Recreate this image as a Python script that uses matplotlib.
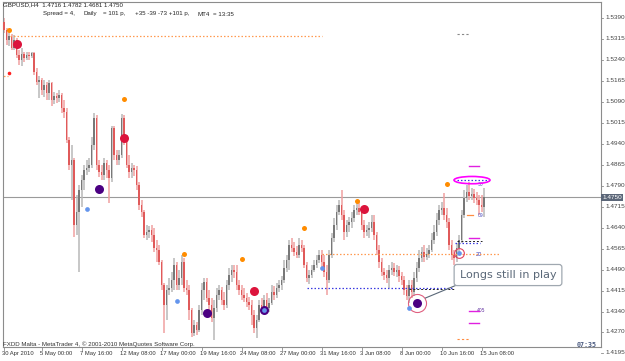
import matplotlib
matplotlib.use("Agg")
import matplotlib.pyplot as plt
import numpy as np
import pandas as pd
from matplotlib.patches import Ellipse

# ---------------- data ----------------
opens = [1.5376, 1.5347, 1.5311, 1.5326, 1.5283, 1.5311, 1.5258, 1.5240, 1.5261, 1.5247,
         1.5258, 1.5254, 1.5265, 1.5197, 1.5161, 1.5168, 1.5133, 1.5151, 1.5122, 1.5158,
         1.5097, 1.5111, 1.5104, 1.5115, 1.5068, 1.5054, 1.4954, 1.4865, 1.4883, 1.4651,
         1.4697, 1.4776, 1.4811, 1.4847, 1.4854, 1.4865, 1.4936, 1.5033, 1.4865, 1.4840,
         1.4829, 1.4872, 1.4847, 1.4819, 1.4997, 1.4901, 1.4883, 1.4901, 1.5033, 1.4954,
         1.4865, 1.4840, 1.4854, 1.4847, 1.4794, 1.4722, 1.4697, 1.4615, 1.4626, 1.4633,
         1.4615, 1.4569, 1.4562, 1.4519, 1.4437, 1.4365, 1.4419, 1.4426, 1.4454, 1.4508,
         1.4437, 1.4462, 1.4519, 1.4426, 1.4419, 1.4347, 1.4265, 1.4294, 1.4276, 1.4347,
         1.4419, 1.4447, 1.4390, 1.4365, 1.4319, 1.4354, 1.4401, 1.4419, 1.4383, 1.4365,
         1.4437, 1.4472, 1.4490, 1.4483, 1.4437, 1.4419, 1.4401, 1.4390, 1.4376, 1.4365,
         1.4329, 1.4283, 1.4312, 1.4365, 1.4354, 1.4383, 1.4354, 1.4372, 1.4412, 1.4401,
         1.4426, 1.4437, 1.4454, 1.4497, 1.4526, 1.4579, 1.4569, 1.4554, 1.4544, 1.4579,
         1.4569, 1.4508, 1.4462, 1.4472, 1.4490, 1.4508, 1.4526, 1.4544, 1.4519, 1.4483,
         1.4454, 1.4544, 1.4604, 1.4651, 1.4697, 1.4722, 1.4686, 1.4626, 1.4651, 1.4662,
         1.4676, 1.4704, 1.4711, 1.4697, 1.4651, 1.4626, 1.4633, 1.4640, 1.4662, 1.4615,
         1.4562, 1.4519, 1.4483, 1.4472, 1.4462, 1.4490, 1.4497, 1.4483, 1.4490, 1.4469,
         1.4454, 1.4419, 1.4397, 1.4437, 1.4412, 1.4462, 1.4497, 1.4533, 1.4554, 1.4537,
         1.4547, 1.4562, 1.4597, 1.4626, 1.4669, 1.4704, 1.4711, 1.4686, 1.4662, 1.4579,
         1.4544, 1.4533, 1.4569, 1.4597, 1.4686, 1.4747, 1.4769, 1.4754, 1.4761, 1.4747,
         1.4740, 1.4722, 1.4716]
highs = [1.5390, 1.5354, 1.5340, 1.5333, 1.5329, 1.5318, 1.5276, 1.5283, 1.5268, 1.5268,
         1.5268, 1.5268, 1.5268, 1.5211, 1.5183, 1.5176, 1.5168, 1.5161, 1.5168, 1.5161,
         1.5126, 1.5122, 1.5133, 1.5122, 1.5097, 1.5068, 1.4965, 1.4936, 1.4890, 1.4758,
         1.4794, 1.4829, 1.4865, 1.4883, 1.4890, 1.4965, 1.5051, 1.5043, 1.4883, 1.4865,
         1.4890, 1.4883, 1.4865, 1.5004, 1.5004, 1.4919, 1.4919, 1.5047, 1.5043, 1.4972,
         1.4901, 1.4872, 1.4865, 1.4861, 1.4804, 1.4740, 1.4704, 1.4651, 1.4647, 1.4651,
         1.4640, 1.4597, 1.4579, 1.4526, 1.4444, 1.4437, 1.4462, 1.4483, 1.4533, 1.4519,
         1.4490, 1.4544, 1.4533, 1.4454, 1.4437, 1.4354, 1.4312, 1.4305, 1.4365, 1.4444,
         1.4462, 1.4462, 1.4419, 1.4390, 1.4383, 1.4426, 1.4437, 1.4429, 1.4412, 1.4454,
         1.4497, 1.4508, 1.4508, 1.4508, 1.4454, 1.4437, 1.4426, 1.4408, 1.4394, 1.4383,
         1.4347, 1.4329, 1.4383, 1.4390, 1.4401, 1.4408, 1.4390, 1.4437, 1.4433, 1.4444,
         1.4454, 1.4469, 1.4526, 1.4544, 1.4597, 1.4604, 1.4590, 1.4576, 1.4604, 1.4597,
         1.4579, 1.4519, 1.4490, 1.4508, 1.4526, 1.4544, 1.4562, 1.4562, 1.4544, 1.4508,
         1.4562, 1.4622, 1.4676, 1.4722, 1.4740, 1.4776, 1.4704, 1.4669, 1.4679, 1.4697,
         1.4722, 1.4729, 1.4740, 1.4715, 1.4669, 1.4651, 1.4662, 1.4686, 1.4686, 1.4626,
         1.4579, 1.4533, 1.4497, 1.4490, 1.4508, 1.4519, 1.4515, 1.4508, 1.4504, 1.4483,
         1.4469, 1.4437, 1.4454, 1.4454, 1.4483, 1.4519, 1.4562, 1.4572, 1.4579, 1.4569,
         1.4579, 1.4622, 1.4651, 1.4694, 1.4722, 1.4733, 1.4765, 1.4711, 1.4676, 1.4597,
         1.4562, 1.4587, 1.4615, 1.4704, 1.4776, 1.4794, 1.4804, 1.4783, 1.4779, 1.4769,
         1.4758, 1.4758, 1.4782]
lows = [1.5336, 1.5293, 1.5290, 1.5276, 1.5276, 1.5247, 1.5222, 1.5218, 1.5233, 1.5240,
        1.5240, 1.5247, 1.5186, 1.5151, 1.5104, 1.5115, 1.5108, 1.5097, 1.5097, 1.5076,
        1.5083, 1.5086, 1.5090, 1.5051, 1.5033, 1.4944, 1.4847, 1.4740, 1.4608, 1.4615,
        1.4483, 1.4715, 1.4776, 1.4829, 1.4840, 1.4854, 1.4919, 1.4847, 1.4822, 1.4811,
        1.4811, 1.4819, 1.4729, 1.4804, 1.4883, 1.4865, 1.4865, 1.4890, 1.4936, 1.4854,
        1.4819, 1.4819, 1.4826, 1.4776, 1.4704, 1.4679, 1.4604, 1.4597, 1.4604, 1.4590,
        1.4554, 1.4519, 1.4508, 1.4419, 1.4265, 1.4312, 1.4401, 1.4412, 1.4419, 1.4419,
        1.4419, 1.4437, 1.4412, 1.4401, 1.4312, 1.4251, 1.4255, 1.4258, 1.4269, 1.4329,
        1.4383, 1.4376, 1.4347, 1.4305, 1.4240, 1.4340, 1.4383, 1.4365, 1.4347, 1.4354,
        1.4419, 1.4447, 1.4462, 1.4419, 1.4401, 1.4383, 1.4376, 1.4358, 1.4347, 1.4294,
        1.4265, 1.4247, 1.4305, 1.4340, 1.4340, 1.4340, 1.4340, 1.4365, 1.4383, 1.4390,
        1.4412, 1.4419, 1.4444, 1.4483, 1.4490, 1.4554, 1.4540, 1.4533, 1.4533, 1.4554,
        1.4497, 1.4447, 1.4440, 1.4462, 1.4483, 1.4497, 1.4515, 1.4490, 1.4465, 1.4401,
        1.4444, 1.4533, 1.4590, 1.4633, 1.4686, 1.4669, 1.4597, 1.4608, 1.4626, 1.4640,
        1.4662, 1.4686, 1.4686, 1.4633, 1.4604, 1.4612, 1.4604, 1.4626, 1.4597, 1.4544,
        1.4497, 1.4469, 1.4454, 1.4444, 1.4426, 1.4472, 1.4469, 1.4465, 1.4447, 1.4437,
        1.4401, 1.4383, 1.4372, 1.4390, 1.4397, 1.4447, 1.4483, 1.4519, 1.4519, 1.4526,
        1.4533, 1.4554, 1.4583, 1.4612, 1.4651, 1.4686, 1.4669, 1.4640, 1.4562, 1.4526,
        1.4508, 1.4519, 1.4554, 1.4587, 1.4676, 1.4733, 1.4740, 1.4740, 1.4729, 1.4722,
        1.4686, 1.4697, 1.4681]
closes = [1.5347, 1.5311, 1.5326, 1.5283, 1.5311, 1.5258, 1.5240, 1.5261, 1.5247, 1.5258,
          1.5254, 1.5265, 1.5197, 1.5161, 1.5168, 1.5133, 1.5151, 1.5122, 1.5158, 1.5097,
          1.5111, 1.5104, 1.5115, 1.5068, 1.5054, 1.4954, 1.4865, 1.4883, 1.4651, 1.4697,
          1.4776, 1.4811, 1.4847, 1.4854, 1.4865, 1.4936, 1.5033, 1.4865, 1.4840, 1.4829,
          1.4872, 1.4847, 1.4819, 1.4997, 1.4901, 1.4883, 1.4901, 1.5033, 1.4954, 1.4865,
          1.4840, 1.4854, 1.4847, 1.4794, 1.4722, 1.4697, 1.4615, 1.4626, 1.4633, 1.4615,
          1.4569, 1.4562, 1.4519, 1.4437, 1.4365, 1.4419, 1.4426, 1.4454, 1.4508, 1.4437,
          1.4462, 1.4519, 1.4426, 1.4419, 1.4347, 1.4265, 1.4294, 1.4276, 1.4347, 1.4419,
          1.4447, 1.4390, 1.4365, 1.4319, 1.4354, 1.4401, 1.4419, 1.4383, 1.4365, 1.4437,
          1.4472, 1.4490, 1.4483, 1.4437, 1.4419, 1.4401, 1.4390, 1.4376, 1.4365, 1.4329,
          1.4283, 1.4312, 1.4365, 1.4354, 1.4383, 1.4354, 1.4372, 1.4412, 1.4401, 1.4426,
          1.4437, 1.4454, 1.4497, 1.4526, 1.4579, 1.4569, 1.4554, 1.4544, 1.4579, 1.4569,
          1.4508, 1.4462, 1.4472, 1.4490, 1.4508, 1.4526, 1.4544, 1.4519, 1.4483, 1.4454,
          1.4544, 1.4604, 1.4651, 1.4697, 1.4722, 1.4686, 1.4626, 1.4651, 1.4662, 1.4676,
          1.4704, 1.4711, 1.4697, 1.4651, 1.4626, 1.4633, 1.4640, 1.4662, 1.4615, 1.4562,
          1.4519, 1.4483, 1.4472, 1.4462, 1.4490, 1.4497, 1.4483, 1.4490, 1.4469, 1.4454,
          1.4419, 1.4397, 1.4437, 1.4412, 1.4462, 1.4497, 1.4533, 1.4554, 1.4537, 1.4547,
          1.4562, 1.4597, 1.4626, 1.4669, 1.4704, 1.4711, 1.4686, 1.4662, 1.4579, 1.4544,
          1.4533, 1.4569, 1.4597, 1.4686, 1.4747, 1.4769, 1.4754, 1.4761, 1.4747, 1.4740,
          1.4722, 1.4716, 1.4750]

first_bar = "2010-04-30 12:00"
last_bar = "2010-06-15 12:00"

date_labels = ["30 Apr 2010", "5 May 00:00", "7 May 16:00", "12 May 08:00", "17 May 00:00",
               "19 May 16:00", "24 May 08:00", "27 May 00:00", "31 May 16:00", "3 Jun 08:00",
               "8 Jun 00:00", "10 Jun 16:00", "15 Jun 08:00"]
date_label_times = ["2010-04-30 12:00", "2010-05-05 00:00", "2010-05-07 16:00", "2010-05-12 08:00",
                    "2010-05-17 00:00", "2010-05-19 16:00", "2010-05-24 08:00", "2010-05-27 00:00",
                    "2010-05-31 16:00", "2010-06-03 08:00", "2010-06-08 00:00", "2010-06-10 16:00",
                    "2010-06-15 08:00"]

price_labels = [1.5390, 1.5315, 1.5240, 1.5165, 1.5090, 1.5015, 1.4940, 1.4865, 1.4790,
                1.4715, 1.4640, 1.4565, 1.4490, 1.4415, 1.4340, 1.4270, 1.4195]
bid_price = 1.4750

# signal dots (bar number, price)
orange_bars = [2, 48, 72, 95, 120, 141, 177]
orange_prices = [1.5347, 1.5101, 1.4547, 1.4529, 1.4640, 1.4736, 1.4797]
crimson_bars = [5, 48, 100, 144]
crimson_prices = [1.5297, 1.4961, 1.4415, 1.4708]
purple_bars = [38, 81, 104, 165]
purple_prices = [1.4779, 1.4337, 1.4347, 1.4372]
blue_bars = [33, 69, 104, 127, 162, 182]
blue_prices = [1.4708, 1.4379, 1.4347, 1.4496, 1.4356, 1.4549]

# level lines (price, from bar, to bar)
orange_levels = [(1.5327, 2.4, 127.2), (1.4547, 127, 198.4), (1.5183, -1.6, 1.6)]
blue_levels = [(1.4426, 121, 152), (1.4426, 152, 180), (1.4587, 180.4, 190.4), (1.4811, 181, 193.6)]
black_levels = [(1.4594, 181, 191), (1.4422, 162, 180)]
magenta_ticks = [1.4861, 1.4604, 1.4345, 1.4301]

header1 = "GBPUSD,H4  1.4716 1.4782 1.4681 1.4750"
header2 = ["Spread = 4,", "Daily", "= 101 p,", "+35 -39 -73 +101 p,", "MT4", "= 13:35"]
footer = "FXDD Malta - MetaTrader 4, \u00a9 2001-2010 MetaQuotes Software Corp."
callout = "Longs still in play"

# ---------------- figure ----------------
W, H = 625, 361
fig = plt.figure(figsize=(W / 100, H / 100), dpi=100)
fig.patch.set_facecolor("white")
ax = fig.add_axes([3 / W, (H - 347) / H, 598 / W, 345 / H])
ax.set_facecolor("white")

times = pd.date_range(first_bar, last_bar, freq="4h")
times = times[times.dayofweek < 5]
n = len(times)
x = np.arange(n)
o = np.array(opens); h = np.array(highs); l = np.array(lows); c = np.array(closes)

up = c >= o
body_col = np.where(up, "#787878", "#e05a5a")
wick_col = np.where(up, "#b8b8b8", "#f0a0a0")
ax.vlines(x, l, h, colors=wick_col, linewidth=1.1, zorder=2)
bot = np.minimum(o, c)
hgt = np.maximum(np.abs(c - o), 0.0004)
ax.bar(x, hgt, bottom=bot, width=0.62, color=body_col, linewidth=0, zorder=3)

ax.set_xlim(-0.4, 238.8)
ax.set_ylim(1.4215, 1.5447)

# bid line
ax.axhline(bid_price, color="#9a9a9a", linewidth=0.8, zorder=1)

# level lines
for p, a, b in orange_levels:
    ax.plot([a, b], [p, p], color="#ff9a50", linewidth=0.9, linestyle=(0, (1.2, 1.6)), zorder=4)
for p, a, b in blue_levels:
    ax.plot([a, b], [p, p], color="#3a3ae0", linewidth=0.9, linestyle=(0, (1.2, 1.6)), zorder=4)
for p, a, b in black_levels:
    ax.plot([a, b], [p, p], color="#222222", linewidth=0.7, linestyle=(0, (2, 2)), zorder=4)
for p in magenta_ticks:
    ax.plot([186, 190], [p, p], color="#e020e0", linewidth=1.0, zorder=5)
ax.plot([181, 186], [1.5333, 1.5333], color="#888888", linewidth=0.8, linestyle=(0, (2, 2)))
ax.plot([181, 186], [1.4244, 1.4244], color="#ff8c40", linewidth=0.8, linestyle=(0, (2, 2)))
ax.plot([185, 187.5], [1.4686, 1.4686], color="#ff8c40", linewidth=0.9)

# magenta ellipse
ax.add_patch(Ellipse((187.2, 1.4811), 14.4, 0.0026, fill=False, edgecolor="#ff00ff",
                     linewidth=1.2, zorder=6))

# dots
ax.plot(orange_bars, orange_prices, "o", color="#ff8c00", markersize=3.6,
        markeredgewidth=0, zorder=7)
ax.plot(crimson_bars, crimson_prices, "o", color="#dc143c", markersize=6.5,
        markeredgewidth=0, zorder=7)
ax.plot(purple_bars, purple_prices, "o", color="#4b0082", markersize=6.5,
        markeredgewidth=0, zorder=7)
ax.plot(blue_bars, blue_prices, "o", color="#6495ed", markersize=3.4,
        markeredgewidth=0, zorder=8)
ax.plot([2], [1.5193], "o", color="#ff2020", markersize=2.6, markeredgewidth=0, zorder=7)
ax.plot([165], [1.4372], "o", markersize=13, markerfacecolor="none",
        markeredgecolor="#e06080", markeredgewidth=0.8, zorder=7)
ax.plot([182], [1.4549], "o", markersize=7, markerfacecolor="none",
        markeredgecolor="#e04060", markeredgewidth=0.8, zorder=7)

# small labels near the last bars
ax.text(189.5, 1.4797, "30", fontsize=3.3, color="#5050c0", ha="left", va="center")
ax.text(189.5, 1.4686, "09", fontsize=3.3, color="#5050c0", ha="left", va="center")
ax.text(188.5, 1.4547, "20", fontsize=3.6, color="#3030b0", ha="left", va="center")
ax.text(189.0, 1.4345, "405", fontsize=3.3, color="#6030a0", ha="left", va="center")

# callout
ax.plot([181.0, 168.6], [1.4436, 1.4390], color="#5a6878", linewidth=0.8, zorder=8)
ax.text(201.6, 1.4472, callout, fontsize=8, color="#5a6878", ha="center", va="center",
        zorder=10,
        bbox=dict(boxstyle="round,pad=0.5,rounding_size=0.25", facecolor="white",
                  edgecolor="#a0a8b0", linewidth=0.9))

# frame
for s in ax.spines.values():
    s.set_color("#8c8c8c")
    s.set_linewidth(0.8)
ax.set_xticks([])
ax.set_yticks([])

ytr = ax.get_yaxis_transform()
for v in price_labels:
    ax.plot([1.0, 1.004], [v, v], transform=ytr, color="#8c8c8c", linewidth=0.6, clip_on=False)
    ax.text(1.008, v, f"{v:.4f}", transform=ytr, fontsize=4.6, color="#444444",
            family="Liberation Sans", ha="left", va="center", clip_on=False)
ax.text(1.002, bid_price, f"{bid_price:.4f}", transform=ytr, fontsize=4.6, color="white",
        family="Liberation Sans", ha="left", va="center", clip_on=False, zorder=20,
        bbox=dict(facecolor="#5b6678", edgecolor="none", pad=0.8))

xtr = ax.get_xaxis_transform()
tpos = {t: i for i, t in enumerate(times)}
for lab, t in zip(date_labels, date_label_times):
    i = tpos[pd.Timestamp(t)]
    ax.plot([i, i], [0, -0.008], transform=xtr, color="#8c8c8c", linewidth=0.6, clip_on=False)
    ax.text(i - 0.8, -0.012, lab, transform=xtr, fontsize=4.2, color="#333333",
            family="Liberation Sans", ha="left", va="top", clip_on=False)

# header and footer text
fig.text(3 / W, 1 - 5 / H, header1, fontsize=4.4, color="#222222", family="Liberation Sans",
         ha="left", va="center")
for s, px in zip(header2, [43, 83, 103, 135, 197, 213]):
    fig.text(px / W, 1 - 14 / H, s, fontsize=4.4, color="#222222", family="Liberation Sans",
             ha="left", va="center")
fig.text(3 / W, 1 - 344 / H, footer, fontsize=4.4, color="#333333", family="Liberation Sans",
         ha="left", va="center")
fig.text(597 / W, 1 - 345 / H, "07:35", fontsize=4.8, color="#4a5a80", family="DejaVu Sans Mono",
         weight="bold", ha="right", va="center")

fig.savefig("out.png", dpi=100, facecolor="white")
